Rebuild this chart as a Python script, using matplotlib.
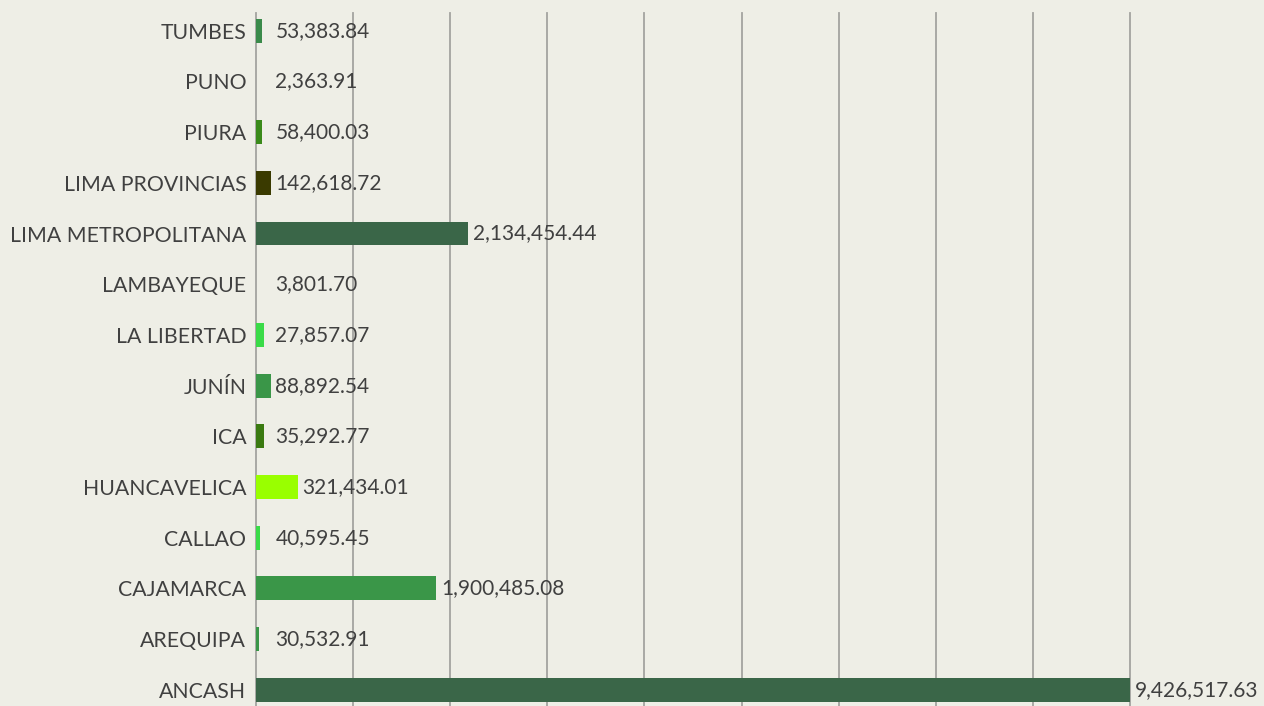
import matplotlib
matplotlib.use("Agg")
import matplotlib.pyplot as plt
import numpy as np

# ---- data ----
regions = ["ANCASH", "AREQUIPA", "CAJAMARCA", "CALLAO", "HUANCAVELICA", "ICA",
           "JUNÍN", "LA LIBERTAD", "LAMBAYEQUE", "LIMA METROPOLITANA",
           "LIMA PROVINCIAS", "PIURA", "PUNO", "TUMBES"]
# values printed as data labels
label_values = [9426517.63, 30532.91, 1900485.08, 40595.45, 321434.01, 35292.77,
                88892.54, 27857.07, 3801.70, 2134454.44,
                142618.72, 58400.03, 2363.91, 53383.84]
# bar lengths as drawn in the picture (axis units)
bar_lengths = [9426517.63, 29000, 1855000, 37000, 428000, 80000,
               150000, 80000, 3800, 2180000,
               150000, 60000, 2364, 60000]
bar_colors = ["#3A6648", "#3A9648", "#3A9648", "#3ADB48", "#99FF00", "#3A7A10",
              "#3A9648", "#3ADB48", "#3A9648", "#3A6648",
              "#3A3A00", "#3A8A1A", "#3A9648", "#3A8A4A"]
x_max = 9000000
x_step = 1000000

BG = "#EEEEE6"
TXT = "#404040"
GRID = "#A3A3A0"
FONT = ["Lato", "DejaVu Sans"]

W, H = 1264, 706
fig = plt.figure(figsize=(W / 100, H / 100), dpi=100, facecolor=BG)
left, right, top, bottom = 256, 1130, 13, 706
ax = fig.add_axes([left / W, 1 - bottom / H, (right - left) / W, (bottom - top) / H])
ax.set_facecolor(BG)

y = np.arange(len(regions))
ax.barh(y, bar_lengths, height=0.47, color=bar_colors, zorder=3)

ax.set_xlim(0, x_max)
ax.set_ylim(-0.32, len(regions) - 1 + 0.351)
ax.set_xticks(np.arange(0, x_max + 1, x_step))
ax.tick_params(axis="x", length=0, labelbottom=False)
ax.tick_params(axis="y", length=0, pad=7)
ax.set_yticks(y)
ax.set_yticklabels(regions, fontsize=15.3, color=TXT, family=FONT)
ax.grid(axis="x", color=GRID, linewidth=1.3, zorder=0)
for gl in ax.get_xgridlines():
    gl.set_clip_on(False)
for s in ax.spines.values():
    s.set_visible(False)

min_label_x = 150000
for yi, b, v in zip(y, bar_lengths, label_values):
    xl = min(max(b, min_label_x), x_max)
    ax.annotate(f"{v:,.2f}", xy=(xl, yi), xytext=(3.5, 0), textcoords="offset points",
                ha="left", va="center", fontsize=15, color=TXT, family=FONT,
                annotation_clip=False)

fig.savefig("out.png", dpi=100, facecolor=BG)
